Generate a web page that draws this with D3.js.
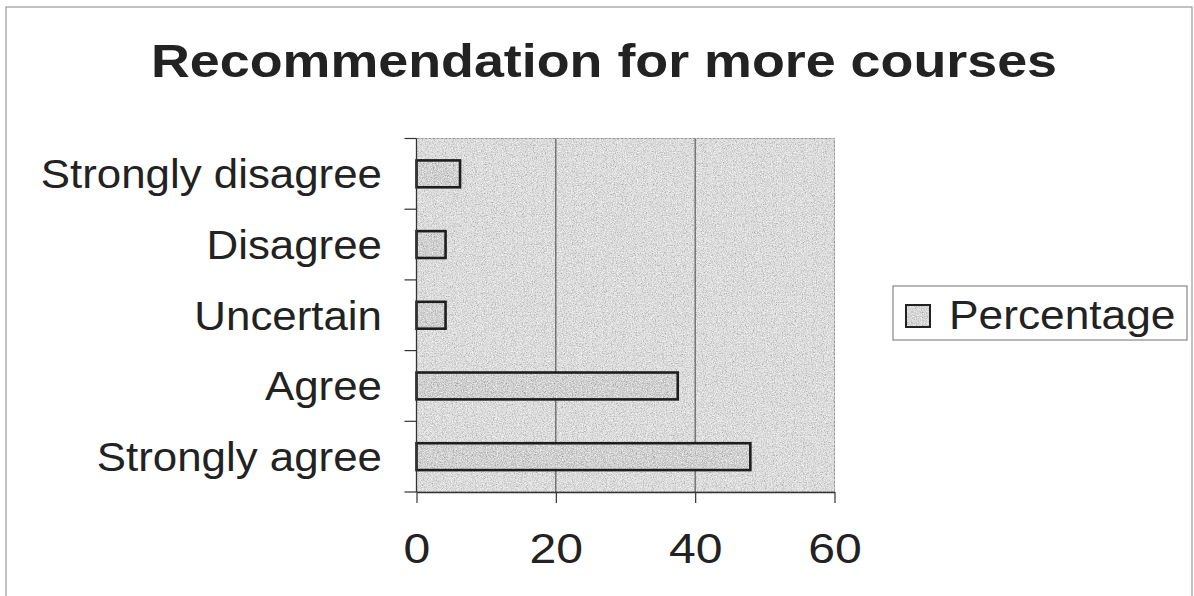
<!DOCTYPE html>
<html>
<head>
<meta charset="utf-8">
<script src="https://cdn.jsdelivr.net/npm/d3@7"></script>
<style>
  html, body { margin: 0; padding: 0; background: #fff; }
  svg { display: block; }
  text { font-family: Arial, "Liberation Sans", sans-serif; fill: #222; }
</style>
</head>
<body>
<svg id="chart" width="1194" height="596"></svg>
<script>
const title = "Recommendation for more courses";
const categories = ["Strongly disagree", "Disagree", "Uncertain", "Agree", "Strongly agree"];
const values = [6.25, 4.17, 4.17, 37.5, 47.92];
const xTicks = [0, 20, 40, 60];
const seriesName = "Percentage";

const svg = d3.select("#chart");
const plot = { left: 416.5, right: 834.5, top: 138.5, bottom: 492 };

// noise filter for the speckled print look (dark + light specks)
const defs = svg.append("defs");
const f = defs.append("filter").attr("id", "noise").attr("x", 0).attr("y", 0).attr("width", 1).attr("height", 1);
f.append("feTurbulence").attr("type", "fractalNoise").attr("baseFrequency", 0.9).attr("numOctaves", 2).attr("seed", 3).attr("result", "t");
f.append("feColorMatrix").attr("in", "t").attr("type", "matrix")
  .attr("values", "0 0 0 0 0  0 0 0 0 0  0 0 0 0 0  -1.2 0 0 0 0.62").attr("result", "dark");
f.append("feTurbulence").attr("type", "fractalNoise").attr("baseFrequency", 0.8).attr("numOctaves", 2).attr("seed", 11).attr("result", "t2");
f.append("feColorMatrix").attr("in", "t2").attr("type", "matrix")
  .attr("values", "0 0 0 0 1  0 0 0 0 1  0 0 0 0 1  1.6 0 0 0 -0.55").attr("result", "light");
f.append("feComposite").attr("in", "dark").attr("in2", "SourceGraphic").attr("operator", "in").attr("result", "d2");
f.append("feComposite").attr("in", "light").attr("in2", "SourceGraphic").attr("operator", "in").attr("result", "l2");
f.append("feMerge").call(m => {
  m.append("feMergeNode").attr("in", "SourceGraphic");
  m.append("feMergeNode").attr("in", "l2");
  m.append("feMergeNode").attr("in", "d2");
});

// outer frame
svg.append("rect").attr("x", 6).attr("y", 7).attr("width", 1186).attr("height", 600)
  .attr("fill", "#fff").attr("stroke", "#999").attr("stroke-width", 1.2);

// title
svg.append("text")
  .attr("transform", `translate(604,77) scale(1.145,1)`)
  .attr("text-anchor", "middle")
  .attr("font-size", 47).attr("font-weight", "bold")
  .text(title);

const x = d3.scaleLinear().domain([0, 60]).range([plot.left, plot.right]);
const y = d3.scaleBand().domain(categories).range([plot.top, plot.bottom]).paddingInner(0.62).paddingOuter(0.31);
const yb = d3.scaleBand().domain(categories).range([plot.top, plot.bottom]);

// plot background
svg.append("rect").attr("x", plot.left).attr("y", plot.top)
  .attr("width", plot.right - plot.left).attr("height", plot.bottom - plot.top)
  .attr("fill", "#d6d6d6").attr("filter", "url(#noise)");
svg.append("rect").attr("x", plot.left).attr("y", plot.top)
  .attr("width", plot.right - plot.left).attr("height", plot.bottom - plot.top)
  .attr("fill", "none").attr("stroke", "#999").attr("stroke-width", 1).attr("stroke-dasharray", "3,1");

// gridlines
svg.append("g").selectAll("line").data(xTicks.filter(d => d > 0 && d < 60)).join("line")
  .attr("x1", d => x(d)).attr("x2", d => x(d)).attr("y1", plot.top).attr("y2", plot.bottom)
  .attr("stroke", "#444").attr("stroke-width", 1);

// bars
svg.append("g").selectAll("rect").data(values).join("rect")
  .attr("x", x(0)).attr("y", (d, i) => y(categories[i]))
  .attr("width", d => x(d) - x(0)).attr("height", y.bandwidth())
  .attr("fill", "#c6c6c6").attr("filter", "url(#noise)");
svg.append("g").selectAll("rect").data(values).join("rect")
  .attr("x", x(0)).attr("y", (d, i) => y(categories[i]))
  .attr("width", d => x(d) - x(0)).attr("height", y.bandwidth())
  .attr("fill", "none").attr("stroke", "#1e1e1e").attr("stroke-width", 2.6);

// x axis
const xAxis = svg.append("g").attr("transform", `translate(0,${plot.bottom})`)
  .call(d3.axisBottom(x).tickValues(xTicks).tickSize(11).tickPadding(29).tickSizeOuter(0));
xAxis.select(".domain").attr("stroke", "#333").attr("stroke-width", 1.3);
xAxis.selectAll(".tick line").attr("stroke", "#333").attr("stroke-width", 1.2);
xAxis.selectAll(".tick text").attr("font-size", 43).attr("fill", "#222")
  .attr("transform", "scale(1.12,1)")
  .attr("font-family", "Arial, 'Liberation Sans', sans-serif");

// y axis: ticks at band boundaries
const yAxisG = svg.append("g");
yAxisG.append("line").attr("x1", plot.left).attr("x2", plot.left).attr("y1", plot.top).attr("y2", plot.bottom)
  .attr("stroke", "#333").attr("stroke-width", 1.3);
const bounds = categories.map(c => yb(c)).concat([plot.bottom]);
yAxisG.selectAll("line.tk").data(bounds).join("line").attr("class", "tk")
  .attr("x1", plot.left - 12).attr("x2", plot.left).attr("y1", d => d).attr("y2", d => d)
  .attr("stroke", "#333").attr("stroke-width", 1.2);
yAxisG.selectAll("text").data(categories).join("text")
  .attr("transform", d => `translate(382,${yb(d) + yb.bandwidth() / 2 + 14.5}) scale(1.07,1)`)
  .attr("text-anchor", "end").attr("font-size", 41)
  .text(d => d);

// legend
const lg = svg.append("g");
lg.append("rect").attr("x", 893).attr("y", 286).attr("width", 294).attr("height", 54)
  .attr("fill", "#fff").attr("stroke", "#888").attr("stroke-width", 1.2);
lg.append("rect").attr("x", 906).attr("y", 305).attr("width", 24).attr("height", 22)
  .attr("fill", "#cfcfcf").attr("filter", "url(#noise)");
lg.append("rect").attr("x", 906).attr("y", 305).attr("width", 24).attr("height", 22)
  .attr("fill", "none").attr("stroke", "#222").attr("stroke-width", 2);
lg.append("text").attr("transform", "translate(949,329) scale(1.08,1)")
  .attr("font-size", 41).text(seriesName);
</script>
</body>
</html>
